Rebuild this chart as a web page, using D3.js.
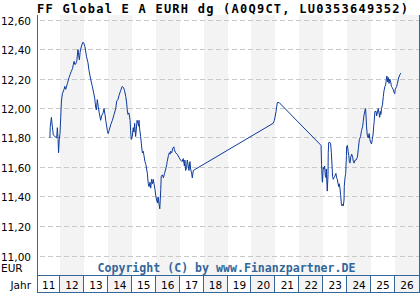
<!DOCTYPE html>
<html>
<head>
<meta charset="utf-8">
<script src="https://cdn.jsdelivr.net/npm/d3@7"></script>
<style>
  body { margin: 0; background: #fff; }
  svg { display: block; }
</style>
</head>
<body>
<svg id="chart" width="420" height="300"></svg>
<script>
var titleText = 'FF Global E A EURH dg (A0Q9CT, LU0353649352)';
var copyText = 'Copyright (C) by www.Finanzpartner.DE';
var unitLabel = 'EUR';
var axisLabel = 'Jahr';

var yearLabels = ['11', '12', '13', '14', '15', '16', '17', '18', '19', '20', '21', '22', '23', '24', '25', '26'];
var yearStarts = [2011, 2012, 2013, 2014, 2015, 2016, 2017, 2018, 2019, 2020, 2021, 2022, 2023, 2024, 2025, 2026];
var yTicks = [11.0, 11.2, 11.4, 11.6, 11.8, 12.0, 12.2, 12.4, 12.6];

// decimal year of each quote
var dates = [
  2011.58, 2011.59, 2011.64, 2011.68, 2011.72, 2011.79, 2011.86, 2011.89, 2011.92, 2011.94, 2011.97,
  2012.00, 2012.03, 2012.06, 2012.10, 2012.17, 2012.20, 2012.24, 2012.31, 2012.38, 2012.42, 2012.47,
  2012.52, 2012.56, 2012.59, 2012.61, 2012.65, 2012.70, 2012.72, 2012.75, 2012.78, 2012.81, 2012.84,
  2012.86, 2012.91, 2012.96, 2013.00, 2013.04, 2013.07, 2013.11, 2013.17, 2013.21, 2013.28, 2013.35,
  2013.39, 2013.45, 2013.49, 2013.52, 2013.56, 2013.60, 2013.64, 2013.70, 2013.74, 2013.80, 2013.84,
  2013.88, 2013.92, 2013.98, 2014.01, 2014.05, 2014.12, 2014.19, 2014.26, 2014.33, 2014.37, 2014.42,
  2014.47, 2014.53, 2014.60, 2014.66, 2014.70, 2014.75, 2014.79, 2014.81, 2014.84, 2014.88, 2014.93,
  2014.95, 2014.98, 2015.02, 2015.06, 2015.09, 2015.12, 2015.16, 2015.19, 2015.22, 2015.26, 2015.29,
  2015.30, 2015.33, 2015.37, 2015.40, 2015.44, 2015.48, 2015.51, 2015.55, 2015.59, 2015.65, 2015.69,
  2015.72, 2015.76, 2015.79, 2015.83, 2015.87, 2015.90, 2015.93, 2015.97, 2016.00, 2016.04, 2016.07,
  2016.10, 2016.14, 2016.17, 2016.21, 2016.23, 2016.28, 2016.32, 2016.37, 2016.42, 2016.46, 2016.48,
  2016.53, 2016.57, 2016.60, 2016.62, 2016.67, 2016.71, 2016.76, 2016.78, 2016.83, 2016.90, 2016.97,
  2017.04, 2017.10, 2017.15, 2017.20, 2017.22, 2017.25, 2017.29, 2017.32, 2017.36, 2017.39, 2017.43,
  2017.46, 2017.50, 2017.53, 2017.57,
  2020.91, 2020.96, 2021.03, 2021.08, 2021.16,
  2022.91, 2022.93, 2022.96, 2022.97, 2023.00, 2023.03, 2023.06, 2023.09, 2023.12, 2023.13, 2023.16,
  2023.17, 2023.20, 2023.21, 2023.23, 2023.25, 2023.28, 2023.31, 2023.34, 2023.37, 2023.39, 2023.42,
  2023.45, 2023.48, 2023.51, 2023.53, 2023.56, 2023.59, 2023.62, 2023.65, 2023.67, 2023.70, 2023.73,
  2023.76, 2023.78, 2023.81, 2023.84, 2023.87, 2023.88, 2023.91, 2023.94, 2023.97, 2023.98, 2024.01,
  2024.04, 2024.07, 2024.09, 2024.12, 2024.15, 2024.19, 2024.23, 2024.26, 2024.29, 2024.33, 2024.37,
  2024.43, 2024.47, 2024.51, 2024.56, 2024.60, 2024.65, 2024.67, 2024.70, 2024.75, 2024.77, 2024.79,
  2024.81, 2024.84, 2024.88, 2024.92, 2024.95, 2024.98, 2025.02, 2025.05, 2025.08, 2025.11, 2025.13,
  2025.16, 2025.21, 2025.23, 2025.26, 2025.30, 2025.33, 2025.36, 2025.39, 2025.41, 2025.44, 2025.48,
  2025.51, 2025.54, 2025.58, 2025.61, 2025.64, 2025.66, 2025.69, 2025.72, 2025.75, 2025.78, 2025.82,
  2025.85, 2025.89, 2025.92, 2025.96, 2025.99, 2026.01, 2026.04, 2026.07, 2026.10, 2026.14, 2026.18,
  2026.21, 2026.24
];

var prices = [
  11.80, 11.87, 11.94, 11.88, 11.82, 11.81, 11.80, 11.87, 11.79, 11.70, 11.79,
  11.83, 11.94, 12.05, 12.10, 12.13, 12.15, 12.13, 12.17, 12.21, 12.23, 12.25,
  12.27, 12.30, 12.32, 12.30, 12.30, 12.32, 12.35, 12.40, 12.36, 12.33, 12.38,
  12.40, 12.43, 12.45, 12.44, 12.42, 12.39, 12.35, 12.31, 12.26, 12.20, 12.15,
  12.12, 12.07, 12.01, 11.99, 12.06, 12.01, 11.97, 11.92, 11.95, 11.97, 12.00,
  11.96, 11.91, 11.85, 11.83, 11.85, 11.89, 11.92, 11.96, 12.00, 12.05, 12.06,
  12.09, 12.12, 12.15, 12.14, 12.12, 12.08, 12.03, 11.99, 11.96, 11.97, 11.92,
  11.85, 11.79, 11.81, 11.87, 11.84, 11.90, 11.81, 11.86, 11.92, 11.90, 11.88,
  11.92, 11.86, 11.81, 11.76, 11.70, 11.71, 11.68, 11.64, 11.62, 11.56, 11.49,
  11.47, 11.50, 11.46, 11.52, 11.49, 11.52, 11.49, 11.45, 11.41, 11.38, 11.36,
  11.40, 11.35, 11.32, 11.45, 11.54, 11.55, 11.53, 11.56, 11.59, 11.62, 11.64,
  11.68, 11.70, 11.69, 11.71, 11.70, 11.73, 11.74, 11.72, 11.70, 11.69, 11.67,
  11.65, 11.64, 11.66, 11.61, 11.65, 11.58, 11.60, 11.65, 11.61, 11.58, 11.64,
  11.59, 11.56, 11.53, 11.58,
  11.90, 11.92, 11.98, 12.04, 12.04,
  11.75, 11.62, 11.51, 11.50, 11.60, 11.59, 11.61, 11.54, 11.53, 11.59, 11.47,
  11.44, 11.55, 11.70, 11.77, 11.77, 11.77, 11.76, 11.70, 11.61, 11.54, 11.52,
  11.53, 11.54, 11.55, 11.56, 11.53, 11.52, 11.49, 11.47, 11.49, 11.46, 11.41,
  11.35, 11.34, 11.35, 11.34, 11.38, 11.47, 11.53, 11.56, 11.68, 11.74, 11.75,
  11.71, 11.68, 11.64, 11.63, 11.67, 11.69, 11.67, 11.64, 11.63, 11.65, 11.65,
  11.67, 11.73, 11.79, 11.81, 11.85, 11.88, 11.91, 11.95, 11.99, 12.00, 11.95,
  11.88, 11.82, 11.80, 11.83, 11.79, 11.77, 11.76, 11.79, 11.82, 11.88, 11.91,
  11.98, 11.98, 11.95, 11.97, 12.00, 11.97, 11.94, 11.98, 11.96, 12.00, 12.03,
  12.08, 12.12, 12.15, 12.16, 12.20, 12.22, 12.18, 12.21, 12.17, 12.20, 12.18,
  12.15, 12.14, 12.13, 12.11, 12.10, 12.13, 12.14, 12.15, 12.17, 12.20, 12.22,
  12.23, 12.24
];

var frameColor = '#336699';
var lineColor = '#0d3a9c';
var plotLeft = 37.5, plotRight = 419.5, plotTop = 15, plotBottom = 275.5, boxBottom = 292.5;

var svg = d3.select('#chart');

var x = d3.scaleLinear().domain([2011, 2027]).range([36.07, 418.93]);
var y = d3.scaleLinear().domain([11.0, 12.6]).range([256, 20]);

var de = d3.formatLocale({ decimal: ',', thousands: '.', grouping: [3], currency: ['', ' EUR'] });
var fmt = de.format('.2f');

// alternating year bands (plot + axis cells)
var bands = yearStarts.map(function(d, i) { return { year: d, label: yearLabels[i], i: i }; });

svg.append('g')
  .selectAll('rect')
  .data(bands.filter(function(d) { return d.i % 2 == 1; }))
  .enter()
  .append('rect')
  .attr('x', function(d) { return Math.max(plotLeft, Math.round(x(d.year))); })
  .attr('width', function(d) { return Math.round(x(d.year + 1)) - Math.max(plotLeft, Math.round(x(d.year))); })
  .attr('y', plotTop)
  .attr('height', boxBottom - plotTop)
  .attr('fill', '#f3f3f3');

// horizontal grid
svg.append('g')
  .selectAll('line')
  .data(yTicks)
  .enter()
  .append('line')
  .attr('x1', plotLeft + 2)
  .attr('x2', plotRight)
  .attr('y1', function(d) { return Math.floor(y(d)) + 0.5; })
  .attr('y2', function(d) { return Math.floor(y(d)) + 0.5; })
  .attr('stroke', '#c8c8c8')
  .attr('stroke-width', 1)
  .attr('stroke-dasharray', '5,3')
  .attr('shape-rendering', 'crispEdges');

// tick labels
svg.append('g')
  .selectAll('text')
  .data(yTicks)
  .enter()
  .append('text')
  .attr('x', 31)
  .attr('y', function(d) { return Math.floor(y(d)) + 4.5; })
  .attr('text-anchor', 'end')
  .style('font', '10.5px "DejaVu Sans"')
  .attr('fill', '#000')
  .text(function(d) { return fmt(d); });

svg.append('text')
  .attr('x', 1)
  .attr('y', 272)
  .style('font', '10.5px "DejaVu Sans"')
  .text(unitLabel);

// price line
var line = d3.line()
  .x(function(d, i) { return x(dates[i]); })
  .y(function(d) { return y(d); });

svg.append('path')
  .datum(prices)
  .attr('d', line)
  .attr('fill', 'none')
  .attr('stroke', lineColor)
  .attr('stroke-width', 1)
  .attr('stroke-linejoin', 'round');

// copyright
svg.append('text')
  .attr('x', 97.5)
  .attr('y', 272)
  .attr('textLength', 258)
  .attr('lengthAdjust', 'spacingAndGlyphs')
  .style('font', 'bold 11.5px "DejaVu Sans Mono"')
  .attr('fill', frameColor)
  .text(copyText);

// frame
var frame = svg.append('g')
  .attr('stroke', frameColor)
  .attr('stroke-width', 1)
  .attr('shape-rendering', 'crispEdges');

frame.append('line').attr('x1', plotLeft).attr('x2', plotLeft).attr('y1', plotTop).attr('y2', boxBottom);
frame.append('line').attr('x1', plotRight).attr('x2', plotRight).attr('y1', plotTop).attr('y2', boxBottom);
frame.append('line').attr('x1', plotLeft).attr('x2', plotRight).attr('y1', plotBottom).attr('y2', plotBottom);
frame.append('line').attr('x1', plotLeft).attr('x2', plotRight).attr('y1', boxBottom).attr('y2', boxBottom);

frame.selectAll('line.sep')
  .data(yearStarts.slice(1))
  .enter()
  .append('line')
  .attr('class', 'sep')
  .attr('x1', function(d) { return Math.round(x(d)) - 0.5; })
  .attr('x2', function(d) { return Math.round(x(d)) - 0.5; })
  .attr('y1', plotBottom)
  .attr('y2', boxBottom);

// year labels
svg.append('g')
  .selectAll('text')
  .data(bands)
  .enter()
  .append('text')
  .attr('x', function(d) {
    var a = Math.max(plotLeft, x(d.year)), b = Math.min(plotRight, x(d.year + 1));
    return (a + b) / 2;
  })
  .attr('y', 289)
  .attr('text-anchor', 'middle')
  .style('font', '10.5px "DejaVu Sans"')
  .text(function(d) { return d.label; });

svg.append('text')
  .attr('x', 31)
  .attr('y', 289)
  .attr('text-anchor', 'end')
  .style('font', '10.5px "DejaVu Sans"')
  .text(axisLabel);

// title
svg.append('text')
  .attr('x', 37)
  .attr('y', 13)
  .attr('textLength', 371)
  .attr('lengthAdjust', 'spacing')
  .style('font', 'bold 12px "DejaVu Sans Mono"')
  .attr('fill', '#000')
  .text(titleText);
</script>
</body>
</html>
